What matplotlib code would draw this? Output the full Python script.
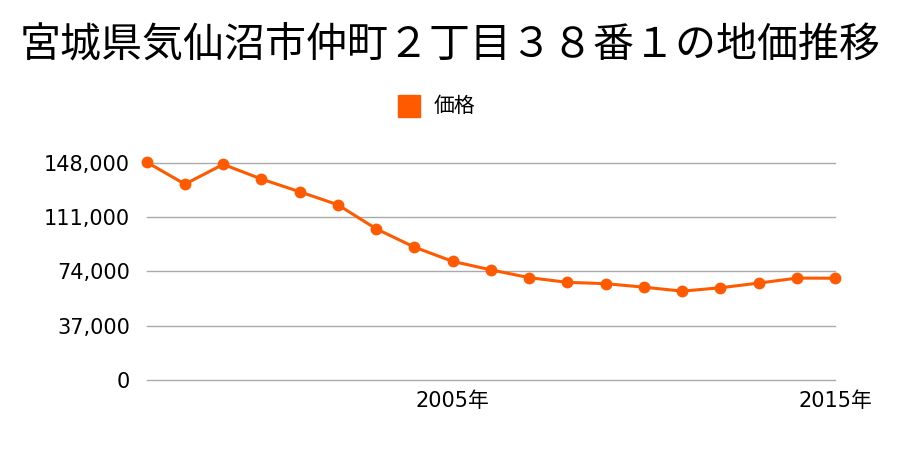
import matplotlib
matplotlib.use("Agg")
import matplotlib.pyplot as plt
from matplotlib.ticker import FuncFormatter

plt.rcParams['font.family'] = ['Noto Sans CJK JP', 'DejaVu Sans']

# data
years = list(range(1997, 2016))
prices = [148500, 133500, 147000, 137000, 128300, 119400, 103000, 90500,
          80800, 75000, 69700, 66500, 65600, 63200, 60500, 62800, 66000,
          69400, 69300]
y_ticks = [0, 37000, 74000, 111000, 148000]
x_ticks = [2005, 2015]
title = "宮城県気仙沼市仲町２丁目３８番１の地価推移"
series_name = "価格"

color = "#ff5a00"
tick_family = ['DejaVu Sans', 'Noto Sans CJK JP']

fig = plt.figure(figsize=(9, 4.5), dpi=100)
ax = fig.add_axes([0.163, 0.156, 0.765, 0.482])

ax.plot(years, prices, color=color, linewidth=2.2, marker="o",
        markersize=7.5, clip_on=False, zorder=3, label=series_name)

ax.set_xlim(years[0], years[-1])
ax.set_ylim(0, 148000)
ax.set_yticks(y_ticks)
ax.yaxis.set_major_formatter(FuncFormatter(lambda v, p: f"{int(v):,}"))
ax.set_xticks(x_ticks)
ax.set_xticklabels([f"{y}年" for y in x_ticks])
for lab in ax.get_xticklabels() + ax.get_yticklabels():
    lab.set_family(tick_family)

ax.grid(axis="y", color="#aaaaaa", linewidth=1)
for gl in ax.yaxis.get_gridlines():
    gl.set_clip_on(False)
ax.set_axisbelow(True)
for s in ax.spines.values():
    s.set_visible(False)
ax.tick_params(axis="both", length=0, labelsize=15)
ax.tick_params(axis="y", pad=12)
ax.tick_params(axis="x", pad=8)

fig.text(0.5, 0.9, title, ha="center", va="center", fontsize=29.5)

# legend
fig.patches.append(plt.Rectangle((398 / 900, 1 - 117 / 450), 22 / 900, 22 / 450,
                                 transform=fig.transFigure, color=color))
fig.text(434 / 900, 1 - 106 / 450, series_name, ha="left", va="center",
         fontsize=15)

plt.savefig("out.png")
